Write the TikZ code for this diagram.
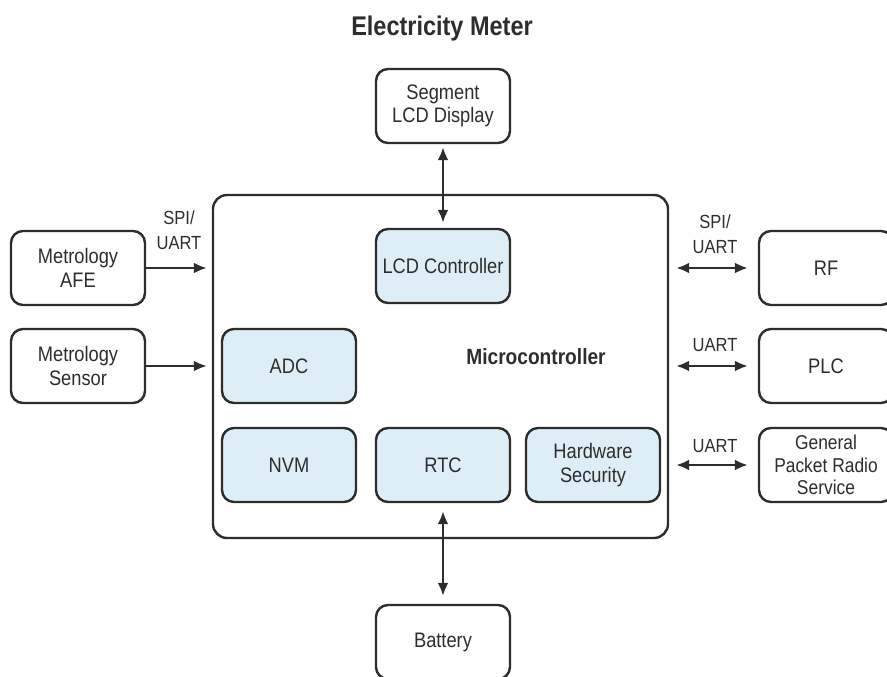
\documentclass[tikz,border=0pt]{standalone}
\usepackage{fontspec}
\setmainfont{Liberation Sans}[FakeStretch=0.87]
\usepackage{xcolor}
\usepackage{tikz}
\usetikzlibrary{positioning,arrows.meta}

\definecolor{edge}{RGB}{45,45,45}
\definecolor{ink}{RGB}{45,45,45}
\definecolor{ice}{RGB}{222,238,247}

\begin{document}
\begin{tikzpicture}[x=1pt, y=-1pt,
        ext/.style={draw=edge, line width=2.4pt, rounded corners=12pt, align=center, minimum width=134pt, minimum height=74pt, fill=white, text=ink, font=\fontsize{21}{23.5}\selectfont},
        blk/.style={ext, fill=ice},
        chip/.style={draw=edge, line width=2.4pt, rounded corners=14pt, minimum width=455pt, minimum height=343pt},
        bus/.style={text=ink, align=center, font=\fontsize{19}{25}\selectfont},
        link/.style={-{Latex[length=13pt, width=11pt]}, line width=2.4pt, draw=edge},
        duplex/.style={{Latex[length=13pt, width=11pt]}-{Latex[length=13pt, width=11pt]}, line width=2.4pt, draw=edge}
    ]
        \useasboundingbox (0,0) rectangle (887,677);

        \node[text=ink, font=\bfseries\fontsize{27}{30}\selectfont] (title) at (442,29) {Electricity Meter};

        % microcontroller and its blocks
        \node[chip] (mcu) at (440.5,366.5) {};
        \node[text=ink, font=\bfseries\fontsize{22}{25}\selectfont] (mculabel) at (536,357) {Microcontroller};
        \node[blk] (lcdc) at (443,266) {LCD Controller};
        \node[blk] (adc) at (289,366) {ADC};
        \node[blk] (nvm) at (289,465) {NVM};
        \node[blk] (rtc) at (443,465) {RTC};
        \node[blk] (hws) at (593,465) {Hardware\\Security};

        % outside parts
        \node[ext] (seg) at (443,106) {Segment\\LCD Display};
        \node[ext] (bat) at (443,642) {Battery};
        \node[ext] (afe) at (78,268) {Metrology\\AFE};
        \node[ext] (sensor) at (78,366) {Metrology\\Sensor};
        \node[ext] (rf) at (826,268) {RF};
        \node[ext] (plc) at (826,366) {PLC};
        \node[ext, font=\fontsize{20}{22.5}\selectfont] (gprs) at (826,465) {General\\Packet Radio\\Service};

        % links
        \draw[link, shorten >=5pt] (afe.east) -- (afe.east -| mcu.west);
        \draw[link, shorten >=5pt] (sensor.east) -- (sensor.east -| mcu.west);
        \draw[duplex, shorten <=7pt, shorten >=10pt] (mcu.east |- rf.west) -- (rf.west);
        \draw[duplex, shorten <=7pt, shorten >=10pt] (mcu.east |- plc.west) -- (plc.west);
        \draw[duplex, shorten <=7pt, shorten >=10pt] (mcu.east |- gprs.west) -- (gprs.west);
        \draw[duplex, shorten <=3pt, shorten >=5pt] (seg.south) -- (lcdc.north);
        \draw[duplex, shorten <=8pt, shorten >=8pt] (rtc.south) -- (bat.north);

        \node[bus] (afebus) at (179,230) {SPI/\\UART};
        \node[bus] (rfbus) at (715,234) {SPI/\\UART};
        \node[bus] (plcbus) at (715,345) {UART};
        \node[bus] (gprsbus) at (715,446) {UART};
    \end{tikzpicture}
\end{document}
